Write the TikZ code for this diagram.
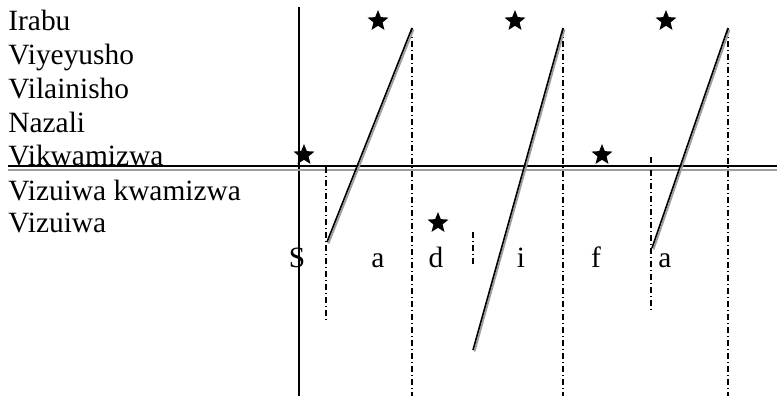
\documentclass[tikz,border=0pt]{standalone}
\usepackage{fontspec}
\setmainfont{Liberation Serif}
\usetikzlibrary{shapes.geometric}
\definecolor{shadowgray}{gray}{0.62}

\begin{document}
\begin{tikzpicture}[
    x=0.5pt, y=-0.5pt,
    tier/.style={anchor=base west, inner sep=0pt, font=\fontsize{14.7}{17}\selectfont},
    seg/.style={anchor=base, inner sep=0pt, font=\fontsize{14.7}{17}\selectfont},
    accent/.style={star, star points=5, star point ratio=2.3, fill=black,
                   inner sep=0pt, minimum size=11pt},
    axis/.style={line width=0.8pt},
    bound/.style={line width=0.65pt, dash pattern=on 3pt off 1.5pt on 0.5pt off 1.5pt},
    glide/.style={line width=0.8pt},
    glideshadow/.style={line width=0.9pt, shadowgray}
  ]
    \useasboundingbox (0,0) rectangle (777,396);
    % tier labels
    \node[tier] (irabu) at (8,31) {Irabu};
    \node[tier] (viyeyusho) at (8,64) {Viyeyusho};
    \node[tier] (vilainisho) at (8,98) {Vilainisho};
    \node[tier] (nazali) at (8,132) {Nazali};
    \node[tier] (vikwamizwa) at (8,165) {Vikwamizwa};
    \node[tier] (vizkwam) at (8,200) {Vizuiwa kwamizwa};
    \node[tier] (vizuiwa) at (8,232) {Vizuiwa};
    % segments
    \node[seg] (sS) at (297,267) {S};
    \node[seg] (sa1) at (378,267) {a};
    \node[seg] (sd) at (436,267) {d};
    \node[seg] (si) at (521,267) {i};
    \node[seg] (sf) at (596,267) {f};
    \node[seg] (sa2) at (665,267) {a};
    % stars
    \node[accent] (st1) at (378,21) {};
    \node[accent] (st2) at (515,21) {};
    \node[accent] (st3) at (666,21) {};
    \node[accent] (st4) at (304,155) {};
    \node[accent] (st5) at (602,155) {};
    \node[accent] (st6) at (438,223) {};
    % axes
    \draw[axis] (299,7) -- (299,396);
    \draw[axis] (8,166) -- (777,166);
    \draw[shadowgray, line width=0.6pt] (8,170) -- (777,170);
    % syllable boundaries
    \draw[bound] (326,167) -- (326,322);
    \draw[bound] (412,28) -- (412,396);
    \draw[bound] (473,232) -- (473,267);
    \draw[bound] (563,28) -- (563,396);
    \draw[bound] (651,157) -- (651,310);
    \draw[bound] (728,28) -- (728,396);
    % rising glides
    \draw[glideshadow] (328.5,243.5) -- (413.5,29.5);
    \draw[glide] (327,242) -- (412,28);
    \draw[glideshadow] (474.5,351.5) -- (564.5,29.5);
    \draw[glide] (473,350) -- (563,28);
    \draw[glideshadow] (653.5,249.5) -- (729.5,29.5);
    \draw[glide] (652,248) -- (728,28);
  \end{tikzpicture}
\end{document}
